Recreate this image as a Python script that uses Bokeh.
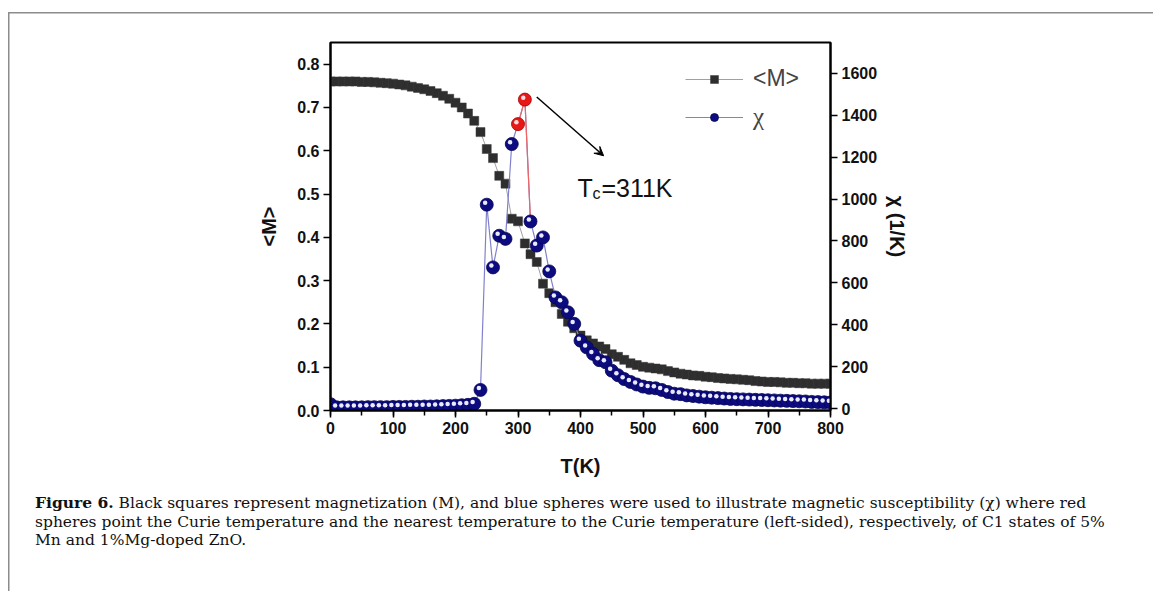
from bokeh.plotting import figure
from bokeh.layouts import column
from bokeh.models import (Range1d, LinearAxis, SingleIntervalTicker, FixedTicker,
                          PrintfTickFormatter, Legend, LegendItem, Label, Arrow,
                          VeeHead, ColumnDataSource, Div)
from bokeh.transform import dodge
from bokeh.embed import file_html
from bokeh.resources import INLINE

# Temperature grid (K); the Curie point sits at 311 K
temperature = [0, 10, 20, 30, 40, 50, 60, 70, 80, 90,
               100, 110, 120, 130, 140, 150, 160, 170, 180, 190,
               200, 210, 220, 230, 240, 250, 260, 270, 280, 290,
               300, 311, 320, 330, 340, 350, 360, 370, 380, 390,
               400, 410, 420, 430, 440, 450, 460, 470, 480, 490,
               500, 510, 520, 530, 540, 550, 560, 570, 580, 590,
               600, 610, 620, 630, 640, 650, 660, 670, 680, 690,
               700, 710, 720, 730, 740, 750, 760, 770, 780, 790, 800]

# Magnetization <M>
magnetization = [0.760, 0.760, 0.760, 0.760, 0.760, 0.759, 0.759, 0.758, 0.757, 0.756,
                 0.755, 0.753, 0.751, 0.748, 0.745, 0.742, 0.738, 0.733, 0.727, 0.720,
                 0.711, 0.700, 0.686, 0.669, 0.643, 0.604, 0.583, 0.542, 0.524, 0.443,
                 0.437, 0.386, 0.361, 0.343, 0.293, 0.271, 0.250, 0.223, 0.205, 0.190,
                 0.173, 0.162, 0.155, 0.148, 0.142, 0.130, 0.124, 0.117, 0.109, 0.105,
                 0.101, 0.099, 0.097, 0.095, 0.091, 0.088, 0.085, 0.083, 0.081, 0.080,
                 0.078, 0.077, 0.075, 0.074, 0.073, 0.072, 0.071, 0.070, 0.068, 0.067,
                 0.066, 0.066, 0.065, 0.064, 0.064, 0.063, 0.063, 0.062, 0.062, 0.062, 0.062]

# Magnetic susceptibility chi (1/K)
susceptibility = [22, 7, 7, 7, 7, 7, 8, 8, 8, 8,
                  9, 9, 9, 10, 10, 11, 11, 12, 13, 14,
                  15, 17, 19, 24, 90, 973, 674, 825, 810, 1262,
                  1357, 1474, 893, 778, 817, 655, 531, 508, 460, 405,
                  325, 293, 262, 232, 222, 182, 160, 142, 128, 116,
                  106, 100, 98, 90, 80, 72, 70, 64, 61, 58,
                  55, 53, 51, 49, 47, 46, 45, 44, 43, 42,
                  41, 40, 39, 38, 37, 36, 35, 33, 32, 31, 30]

curie_temperature = 311
m_ticks = [0.0, 0.1, 0.2, 0.3, 0.4, 0.5, 0.6, 0.7, 0.8]
chi_ticks = [0, 200, 400, 600, 800, 1000, 1200, 1400, 1600]

caption_label = "Figure 6."
caption_lines = [
    "Black squares represent magnetization (M), and blue spheres were used to illustrate "
    "magnetic susceptibility (\u03c7) where red",
    "spheres point the Curie temperature and the nearest temperature to the Curie "
    "temperature (left-sided), respectively, of C1 states of 5%",
    "Mn and 1%Mg-doped ZnO.",
]

ic = temperature.index(curie_temperature)
red_idx = [ic - 1, ic]
blue_idx = [i for i in range(len(temperature)) if i not in red_idx]

src = ColumnDataSource(dict(t=temperature, m=magnetization, chi=susceptibility))
blue_src = ColumnDataSource(dict(t=[temperature[i] for i in blue_idx],
                                 chi=[susceptibility[i] for i in blue_idx]))
red_src = ColumnDataSource(dict(t=[temperature[i] for i in red_idx],
                                chi=[susceptibility[i] for i in red_idx]))
red_seg = ColumnDataSource(dict(t=temperature[ic - 1:ic + 2],
                                chi=susceptibility[ic - 1:ic + 2]))

PLOT_H = 480
p = figure(width=1153, height=PLOT_H, x_range=Range1d(0, 800), y_range=Range1d(0, 0.85),
           output_backend="svg", toolbar_location=None,
           min_border_left=330, min_border_right=323, min_border_top=42,
           min_border_bottom=PLOT_H - 410)
p.extra_y_ranges = {"chi": Range1d(-8, 1746)}
p.grid.visible = False
p.outline_line_color = "black"
p.outline_line_width = 2
p.background_fill_color = "white"
p.border_fill_alpha = 0

FONT = "Liberation Sans"

def style_axis(ax):
    ax.axis_line_width = 2
    ax.axis_line_color = "black"
    ax.major_tick_line_width = 1.5
    ax.minor_tick_line_width = 1.5
    ax.major_tick_in = 0
    ax.major_tick_out = 7
    ax.minor_tick_in = 0
    ax.minor_tick_out = 5
    ax.major_label_text_font = FONT
    ax.major_label_text_font_style = "bold"
    ax.major_label_text_font_size = "16px"
    ax.major_label_text_color = "#111111"
    ax.axis_label_text_font = FONT
    ax.axis_label_text_font_style = "bold"
    ax.axis_label_text_font_size = "20px"
    ax.axis_label_text_color = "#111111"
    ax.major_label_standoff = 4

xa = p.xaxis[0]
style_axis(xa)
xa.ticker = SingleIntervalTicker(interval=100, num_minor_ticks=2)
xa.axis_label = "T(K)"
xa.axis_label_standoff = 18

ya = p.yaxis[0]
style_axis(ya)
ya.ticker = FixedTicker(ticks=m_ticks)
ya.formatter = PrintfTickFormatter(format="%.1f")
ya.minor_tick_line_color = None
ya.axis_label = "<M>"
ya.axis_label_standoff = 14

ra = LinearAxis(y_range_name="chi")
style_axis(ra)
ra.ticker = FixedTicker(ticks=chi_ticks)
ra.minor_tick_line_color = None
ra.axis_label = "\u03c7 (1/K)"
ra.axis_label_standoff = 6
p.add_layout(ra, "right")

# Magnetization: grey connecting line with dark squares
m_line = p.line("t", "m", source=src, line_color="#a0a0a0", line_width=1)
m_pts = p.scatter("t", "m", source=src, marker="square", size=9,
                  fill_color="#2e2e2e", line_color="#3a3a3a", line_width=0.5)

# Susceptibility: thin line and shaded spheres
c_line = p.line("t", "chi", source=src, y_range_name="chi",
                line_color="#8080cc", line_width=1.2)
r_line = p.line("t", "chi", source=red_seg, y_range_name="chi",
                line_color="#f06464", line_width=1.2)
c_pts = p.scatter("t", "chi", source=blue_src, y_range_name="chi", marker="circle",
                  size=13, fill_color="#0c0c80", line_color="#06064f", line_width=0.8)
c_hi = p.scatter(dodge("t", -2.6), dodge("chi", 9), source=blue_src, y_range_name="chi",
                 marker="circle", size=4.5, fill_color="#eaeaff", line_color=None)
r_pts = p.scatter("t", "chi", source=red_src, y_range_name="chi", marker="circle",
                  size=13, fill_color="#e81818", line_color="#a00000", line_width=0.8)
r_hi = p.scatter(dodge("t", -2.6), dodge("chi", 9), source=red_src, y_range_name="chi",
                 marker="circle", size=4.5, fill_color="#ffd8d8", line_color=None)

leg_m = Legend(items=[LegendItem(label="<M>", renderers=[m_line, m_pts])],
               location=(355, 318), glyph_width=58, glyph_height=20, label_standoff=10,
               padding=0, margin=0, border_line_color=None, background_fill_alpha=0,
               label_text_font=FONT, label_text_font_size="23px")
leg_c = Legend(items=[LegendItem(label="\u03c7", renderers=[c_line, c_pts])],
               location=(355, 279), glyph_width=58, glyph_height=20, label_standoff=10,
               padding=0, margin=0, border_line_color=None, background_fill_alpha=0,
               label_text_font="Liberation Serif", label_text_font_size="25px")
p.add_layout(leg_m)
p.add_layout(leg_c)

# Arrow pointing from the Curie point to its label
chi_c = susceptibility[ic]
p.add_layout(Arrow(x_start=curie_temperature + 19, y_start=chi_c + 12,
                   x_end=curie_temperature + 126, y_end=chi_c - 268, y_range_name="chi",
                   line_color="black", line_width=1.5,
                   end=VeeHead(size=9, fill_color="black", line_color="black")))

tc_x = curie_temperature + 84
tc_y = chi_c - 420
for txt, dx, dy, fs in [("T", 0, 0, "25px"), ("c", 15, -6, "16px"),
                        ("=%dK" % curie_temperature, 24, 0, "25px")]:
    p.add_layout(Label(x=tc_x, y=tc_y, y_range_name="chi", text=txt, x_offset=dx, y_offset=dy,
                       text_font=FONT, text_font_size=fs, text_color="#111111",
                       text_baseline="alphabetic"))

# Caption below the chart
caption_html = ('<div style="padding:9px 0 0 30px; white-space:nowrap; '
                'font-family:\'DejaVu Serif\'; font-size:15.5px; line-height:18.5px; '
                'color:#111111;"><b>%s</b> %s</div>'
                % (caption_label, "<br>".join(caption_lines)))
cap = Div(text=caption_html, width=1153, height=591 - PLOT_H)

page = column(p, cap, spacing=0, styles={
    "background-image": "linear-gradient(#8c8c8c,#8c8c8c), linear-gradient(#8c8c8c,#8c8c8c)",
    "background-size": "1.5px 579px, 1145px 1.5px",
    "background-position": "8px 12px, 8px 12px",
    "background-repeat": "no-repeat",
})

open("out.html", "w").write(file_html(page, INLINE))
